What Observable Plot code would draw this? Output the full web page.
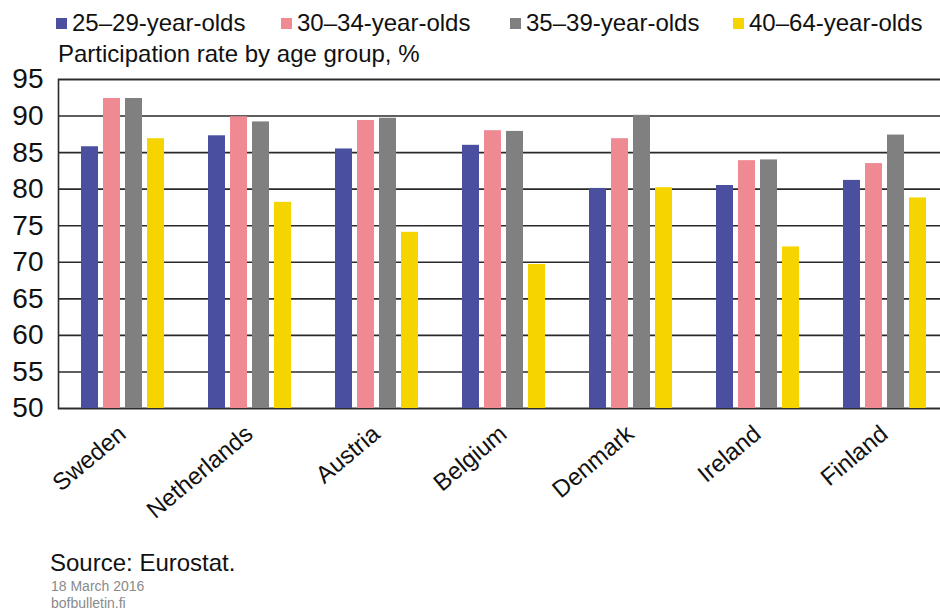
<!DOCTYPE html>
<html>
<head>
<meta charset="utf-8">
<script src="https://cdn.jsdelivr.net/npm/d3@7"></script>
<script src="https://cdn.jsdelivr.net/npm/@observablehq/plot@0.6"></script>
<style>
  html, body { margin: 0; padding: 0; background: #fff; overflow: hidden; }
  body { width: 940px; height: 612px; position: relative; font-family: "Liberation Sans", Arial, sans-serif; color: #111; }
  #chart { position: absolute; left: 0; top: 0; width: 940px; height: 540px; overflow: hidden; }
  #chart svg { position: absolute; left: 0; top: 0; max-width: none !important; }
  .legend-item { position: absolute; top: 11px; display: flex; align-items: center; font-size: 24px; line-height: 24px; white-space: nowrap; }
  .legend-swatch { width: 11px; height: 11px; margin-right: 5px; flex: none; }
  #subtitle { position: absolute; left: 58px; top: 42px; font-size: 24px; line-height: 24px; white-space: nowrap; }
  #source { position: absolute; left: 50px; top: 551px; font-size: 24px; line-height: 24px; }
  .small { position: absolute; left: 51px; font-size: 14px; line-height: 14px; color: #8a8a8a; }
</style>
</head>
<body>
<div id="chart"></div>
<div id="legend"></div>
<div id="subtitle">Participation rate by age group, %</div>
<div id="source">Source: Eurostat.</div>
<div class="small" style="top:579px">18 March 2016</div>
<div class="small" style="top:596px">bofbulletin.fi</div>
<script>
// ---- data ----
const countries = ["Sweden", "Netherlands", "Austria", "Belgium", "Denmark", "Ireland", "Finland"];
const ageGroups = ["25–29-year-olds", "30–34-year-olds", "35–39-year-olds", "40–64-year-olds"];
const rate25to29 = [85.8, 87.3, 85.5, 86.0, 80.1, 80.5, 81.2];
const rate30to34 = [92.4, 89.9, 89.4, 88.0, 86.9, 83.9, 83.5];
const rate35to39 = [92.4, 89.2, 89.7, 87.9, 90.1, 84.0, 87.4];
const rate40to64 = [86.9, 78.2, 74.1, 69.7, 80.2, 72.1, 78.8];
const yTicks = [50, 55, 60, 65, 70, 75, 80, 85, 90, 95];

// ---- style ----
const groupColors = ["#4a4fa0", "#ef8a93", "#808080", "#f6d400"];
const legendLefts = [56, 281, 510, 733];

const series = [rate25to29, rate30to34, rate35to39, rate40to64];
const data = countries.flatMap((c, i) =>
  ageGroups.map((g, j) => ({country: c, group: g, value: series[j][i]}))
);

// legend
const legend = document.getElementById("legend");
ageGroups.forEach((g, j) => {
  const item = document.createElement("div");
  item.className = "legend-item";
  item.style.left = legendLefts[j] + "px";
  const sw = document.createElement("span");
  sw.className = "legend-swatch";
  sw.style.background = groupColors[j];
  const tx = document.createElement("span");
  tx.textContent = g;
  item.appendChild(sw);
  item.appendChild(tx);
  legend.appendChild(item);
});

const layout = {
  width: 949,
  height: 540,
  marginLeft: 58,
  marginRight: 0,
  marginTop: 79,
  marginBottom: 132,
  style: {fontFamily: "Liberation Sans, Arial, sans-serif", background: "transparent", color: "#111", overflow: "visible"}
};

// background: frame, gridlines, y axis
const back = Plot.plot({
  ...layout,
  x: {domain: countries, padding: 0, axis: null},
  y: {domain: [50, 95], label: null},
  marks: [
    Plot.ruleY(yTicks, {stroke: "#2a2a2a", strokeWidth: 1.6}),
    Plot.frame({stroke: "#2a2a2a", strokeWidth: 1.6}),
    Plot.axisY(yTicks, {tickSize: 0, tickPadding: 15, fontSize: 28, label: null, fill: "#111"})
  ]
});

// foreground: grouped bars and country labels
const front = Plot.plot({
  ...layout,
  fx: {domain: countries, paddingInner: 0.242, paddingOuter: 0.121, axis: null, label: null},
  x: {domain: ageGroups, padding: 0.23, axis: null},
  y: {domain: [50, 95], axis: null},
  color: {domain: ageGroups, range: groupColors},
  marks: [
    Plot.barY(data, {fx: "country", x: "group", y1: 50, y2: "value", fill: "group"}),
    Plot.text(countries, {fx: d => d, text: d => d, frameAnchor: "bottom", textAnchor: "end", lineAnchor: "middle", rotate: -40, dx: 0, dy: 22, fontSize: 24, fill: "#111"})
  ]
});

const chartDiv = document.getElementById("chart");
chartDiv.appendChild(back);
chartDiv.appendChild(front);
</script>
</body>
</html>
